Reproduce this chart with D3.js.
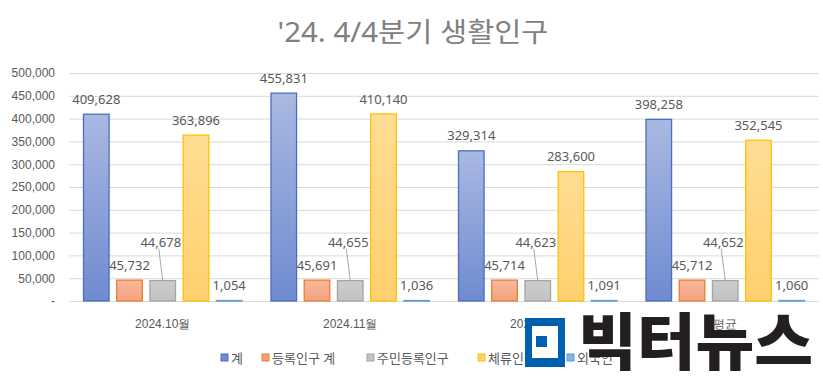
<!DOCTYPE html>
<html>
<head>
<meta charset="utf-8">
<script src="https://cdn.jsdelivr.net/npm/d3@7"></script>
<style>
    body { margin: 0; background: #fff; }
    svg { display: block; font-family: "Noto Sans", "Noto Sans CJK KR", sans-serif; }
    .grid line { stroke: #d9d9d9; }
    .grid path { display: none; }
    .axis text { fill: #595959; font-size: 12px; }
    .axis path, .axis line { display: none; }
    .lbl { fill: #595959; font-size: 13px; }
</style>
</head>
<body>
<div id="chart"></div>
<script>
const categories = ["2024.10월", "2024.11월", "2024.12월", "평균"]
const seriesNames = ["계", "등록인구 계", "주민등록인구", "체류인구", "외국인"]
const total = [409628, 455831, 329314, 398258]
const registered = [45732, 45691, 45714, 45712]
const residents = [44678, 44655, 44623, 44652]
const staying = [363896, 410140, 283600, 352545]
const foreigners = [1054, 1036, 1091, 1060]
const yTicks = [0, 50000, 100000, 150000, 200000, 250000, 300000, 350000, 400000, 450000, 500000]

const seriesValues = [total, registered, residents, staying, foreigners]
const colors = [
    { top: "#aab8e2", bottom: "#6f8bd0", stroke: "#4a6fc0" },
    { top: "#f8b99c", bottom: "#f3a27e", stroke: "#ed7d31" },
    { top: "#cdcdcd", bottom: "#c2c2c2", stroke: "#a5a5a5" },
    { top: "#ffdd94", bottom: "#ffd06e", stroke: "#ffc000" },
    { top: "#9fc3e6", bottom: "#86b3e0", stroke: "#5b9bd5" }
]

const width = 823, height = 376
const svg = d3.select("#chart").append("svg")
    .attr("width", width)
    .attr("height", height)

const defs = svg.append("defs")
colors.forEach((c, i) => {
    const g = defs.append("linearGradient")
        .attr("id", "grad" + i)
        .attr("x1", 0).attr("y1", 0).attr("x2", 0).attr("y2", 1)
    g.append("stop").attr("offset", "0%").attr("stop-color", c.top)
    g.append("stop").attr("offset", "100%").attr("stop-color", c.bottom)
})

//Title
svg.append("text")
    .attr("x", 413)
    .attr("y", 42)
    .attr("text-anchor", "middle")
    .attr("font-size", 27)
    .attr("fill", "#808080")
    .attr("textLength", 271)
    .attr("lengthAdjust", "spacingAndGlyphs")
    .text("'24. 4/4분기 생활인구")

const plot = { left: 69, right: 819, top: 73, bottom: 301 }

const yScale = d3.scaleLinear()
    .domain([0, 500000])
    .range([plot.bottom, plot.top])

const x0 = d3.scaleBand()
    .domain(categories)
    .range([plot.left, plot.right])
    .padding(0)

const x1 = d3.scaleBand()
    .domain(seriesNames)
    .range([14, x0.bandwidth() - 14])
    .paddingInner(0.2)
    .paddingOuter(0)

//grid
svg.append("g")
    .attr("class", "grid")
    .attr("transform", `translate(${plot.left},0)`)
    .call(d3.axisLeft(yScale).tickValues(yTicks).tickSize(-(plot.right - plot.left)).tickFormat(""))

//y axis
const fmt = d3.format(",")
svg.append("g")
    .attr("class", "axis")
    .attr("transform", `translate(${plot.left - 14},0)`)
    .call(d3.axisLeft(yScale).tickValues(yTicks).tickSize(0).tickPadding(0)
        .tickFormat(d => d === 0 ? "-   " : fmt(d)))

//x axis
svg.append("g")
    .attr("class", "axis")
    .attr("transform", `translate(0,${plot.bottom + 18})`)
    .call(d3.axisBottom(x0).tickSize(0).tickPadding(0))

//bars
const groups = svg.selectAll(".grp")
    .data(categories)
    .enter().append("g")
    .attr("class", "grp")
    .attr("transform", d => `translate(${x0(d)},0)`)

groups.selectAll("rect")
    .data((d, ci) => seriesNames.map((s, si) => ({ s: s, si: si, v: seriesValues[si][ci] })))
    .enter().append("rect")
    .attr("x", d => x1(d.s) + 0.5)
    .attr("y", d => yScale(d.v))
    .attr("width", x1.bandwidth() - 1)
    .attr("height", d => plot.bottom - yScale(d.v))
    .attr("fill", d => `url(#grad${d.si})`)
    .attr("stroke", d => colors[d.si].stroke)
    .attr("stroke-width", 1.3)

//labels (gray series gets a leader line)
const labelOffset = [15, 15, 38, 15, 15]
groups.each(function (c, ci) {
    const g = d3.select(this)
    seriesNames.forEach((s, si) => {
        const v = seriesValues[si][ci]
        const cx = x1(s) + x1.bandwidth() / 2
        const top = yScale(v)
        if (si === 2) {
            g.append("line")
                .attr("x1", cx - 4).attr("y1", top - 32)
                .attr("x2", cx).attr("y2", top)
                .attr("stroke", "#a6a6a6")
                .attr("stroke-width", 1)
        }
        g.append("text")
            .attr("class", "lbl")
            .attr("x", si === 2 ? cx - 2 : cx)
            .attr("y", top - labelOffset[si])
            .attr("dy", "0.35em")
            .attr("text-anchor", "middle")
            .text(fmt(v))
    })
})

//legend
const legendX = [221, 262, 367, 478, 567]
const legend = svg.append("g")
legend.selectAll("rect")
    .data(seriesNames)
    .enter().append("rect")
    .attr("x", (d, i) => legendX[i])
    .attr("y", 354)
    .attr("width", 7)
    .attr("height", 7)
    .attr("fill", (d, i) => colors[i].bottom)
    .attr("stroke", (d, i) => colors[i].stroke)
    .attr("stroke-width", 1)
legend.selectAll("text")
    .data(seriesNames)
    .enter().append("text")
    .attr("class", "lbl")
    .attr("x", (d, i) => legendX[i] + 10)
    .attr("y", 358)
    .attr("dy", "0.35em")
    .text(d => d)

//watermark logo
const logo = svg.append("g")
logo.append("rect").attr("x", 525).attr("y", 318).attr("width", 40).attr("height", 49).attr("fill", "#0060b0")
logo.append("rect").attr("x", 532).attr("y", 326).attr("width", 26).attr("height", 32).attr("fill", "#fff")
logo.append("rect").attr("x", 536).attr("y", 336).attr("width", 11).attr("height", 11).attr("fill", "#0060b0")
logo.append("text")
    .attr("x", 578)
    .attr("y", 365)
    .attr("font-family", "Noto Sans CJK KR")
    .attr("font-weight", 900)
    .attr("font-size", 62)
    .attr("fill", "#231f20")
    .attr("textLength", 235)
    .attr("lengthAdjust", "spacingAndGlyphs")
    .text("빅터뉴스")
</script>
</body>
</html>
